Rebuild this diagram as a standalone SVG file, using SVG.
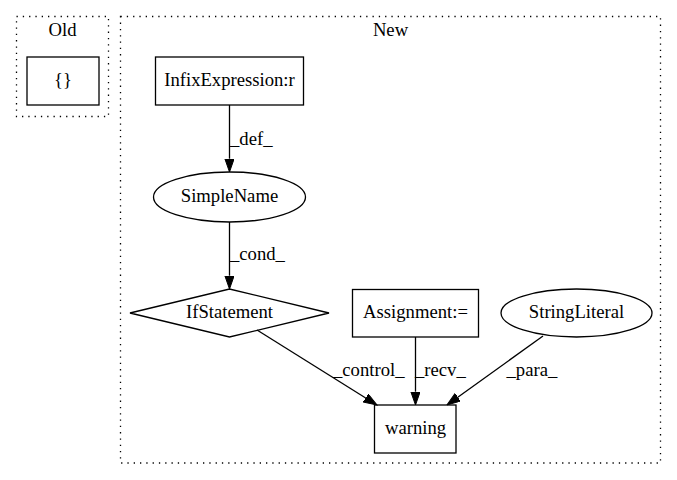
<svg xmlns="http://www.w3.org/2000/svg" width="677" height="480" viewBox="0 0 677 480" font-family="'Liberation Serif', 'Times New Roman', 'DejaVu Serif', serif" font-size="18.67">
<style>
  .cluster { fill: none; stroke: #000; stroke-width: 1.3; stroke-dasharray: 1.3,5; }
  .node { fill: #fff; stroke: #000; stroke-width: 1.3; }
  .edge { fill: none; stroke: #000; stroke-width: 1.3; }
  text { font-family: 'Liberation Serif', 'Times New Roman', 'DejaVu Serif', serif; font-size: 18.67px; fill: #000; }
  .c { text-anchor: middle; }
</style>
<defs>
  <marker id="arrow" markerUnits="userSpaceOnUse" markerWidth="14" markerHeight="10" refX="0" refY="4.67" orient="auto">
    <path d="M0,0 L13.3,4.67 L0,9.33 z" fill="#000" stroke="#000" stroke-width="1"/>
  </marker>
</defs>
<rect width="677" height="480" fill="#fff"/>
<g id="cluster_old">
  <rect class="cluster" x="16.5" y="16.5" width="92" height="100"/>
  <text class="c" x="62.5" y="36">Old</text>
</g>
<g id="cluster_new">
  <rect class="cluster" x="120.5" y="16.5" width="540" height="446.5"/>
  <text class="c" x="390.5" y="36">New</text>
</g>
<g id="node_braces">
  <rect class="node" x="27" y="57" width="72" height="48"/>
  <text class="c" x="63" y="86.4">{}</text>
</g>
<g id="node_infix">
  <rect class="node" x="155.5" y="57" width="148" height="48"/>
  <text class="c" x="229.5" y="86.4">InfixExpression:r</text>
</g>
<g id="node_simplename">
  <ellipse class="node" cx="229.5" cy="197" rx="76" ry="25"/>
  <text class="c" x="229.5" y="202.4">SimpleName</text>
</g>
<g id="node_if">
  <polygon class="node" points="130,313 229.5,289 329,313 229.5,337"/>
  <text class="c" x="229.5" y="318.4">IfStatement</text>
</g>
<g id="node_assign">
  <rect class="node" x="352.5" y="289.5" width="126" height="47.5"/>
  <text class="c" x="415.5" y="318.4">Assignment:=</text>
</g>
<g id="node_string">
  <ellipse class="node" cx="576.5" cy="313" rx="75.5" ry="24"/>
  <text class="c" x="576.5" y="318.4">StringLiteral</text>
</g>
<g id="node_warning">
  <rect class="node" x="374.5" y="405" width="81.5" height="48"/>
  <text class="c" x="415.5" y="434.4">warning</text>
</g>
<g id="edges">
  <path class="edge" d="M229.5,105 L229.5,158.7" marker-end="url(#arrow)"/>
  <text x="230" y="145">_def_</text>
  <path class="edge" d="M229.5,222 L229.5,275.7" marker-end="url(#arrow)"/>
  <text x="230" y="260">_cond_</text>
  <path class="edge" d="M257,330 L365.7,398" marker-end="url(#arrow)"/>
  <text x="333" y="376">_control_</text>
  <path class="edge" d="M415.5,337 L415.5,391.7" marker-end="url(#arrow)"/>
  <text x="415" y="376">_recv_</text>
  <path class="edge" d="M543,336 L457.8,397.2" marker-end="url(#arrow)"/>
  <text x="506.5" y="376">_para_</text>
</g>
</svg>
